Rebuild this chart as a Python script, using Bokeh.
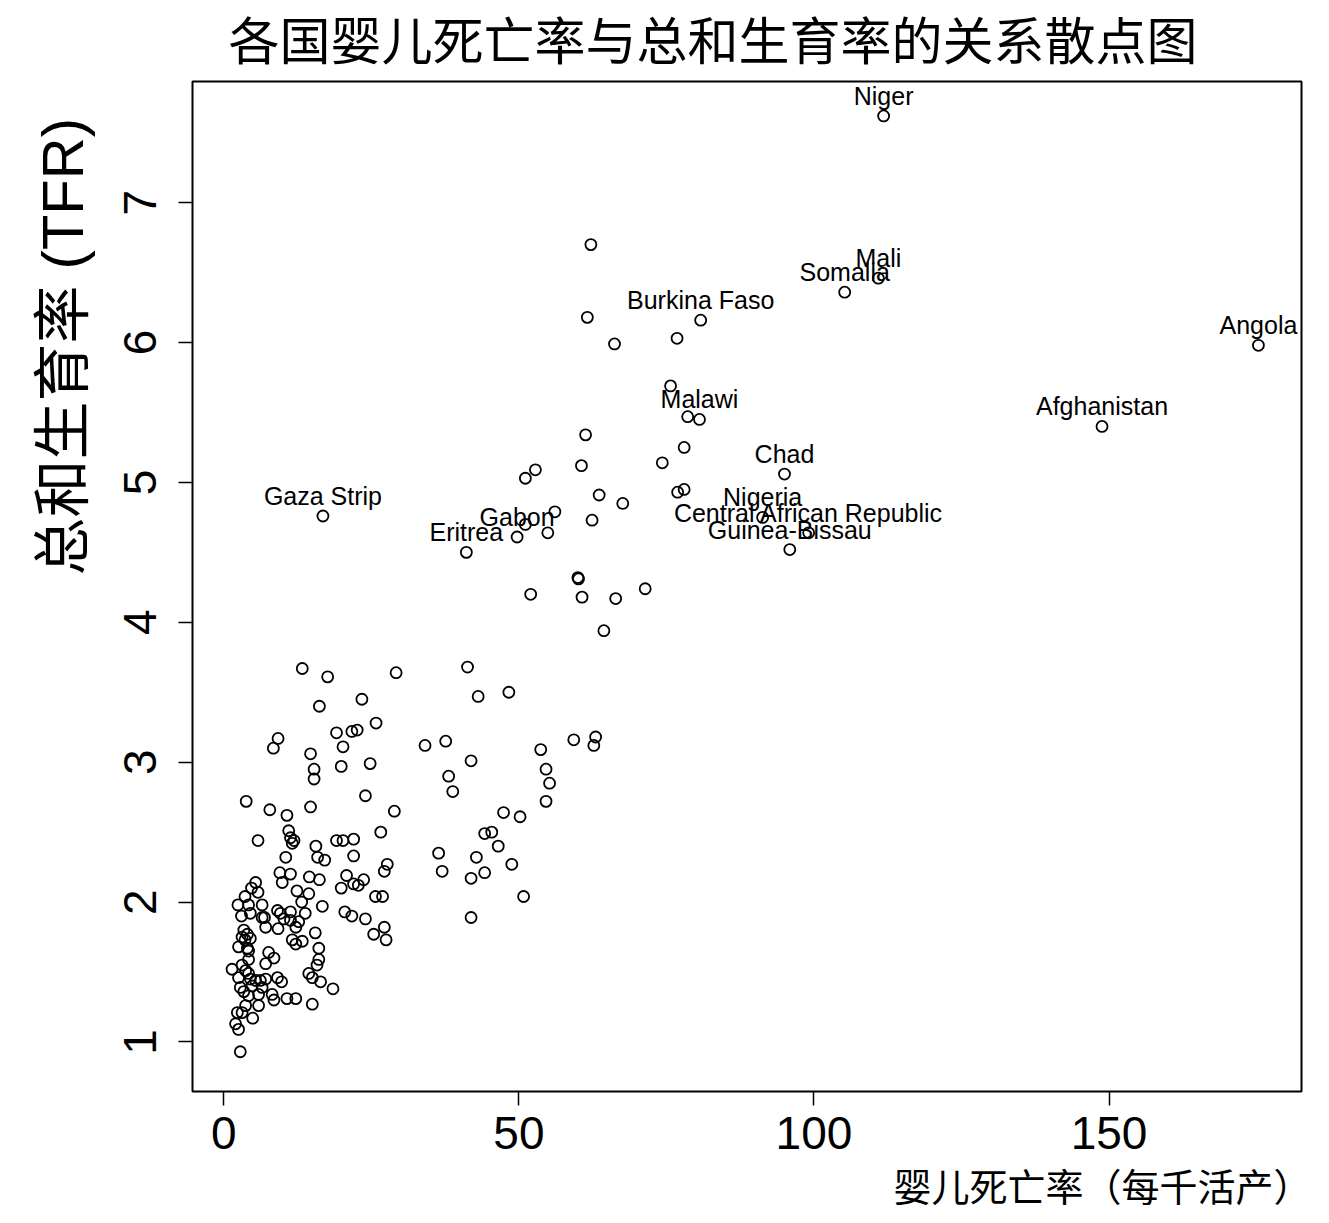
from bokeh.plotting import figure
from bokeh.models import Range1d, FixedTicker, Title, ColumnDataSource
from bokeh.core.properties import value
from bokeh.embed import file_html
from bokeh.resources import INLINE

# ---------------- data ----------------
title_text = "各国婴儿死亡率与总和生育率的关系散点图"
x_label_text = "婴儿死亡率（每千活产）"
y_label_text = "总和生育率 (TFR)"

x_ticks = [0, 50, 100, 150]
y_ticks = [1, 2, 3, 4, 5, 6, 7]

# labelled countries
lab_country = ["Niger", "Mali", "Somalia", "Burkina Faso", "Angola", "Malawi",
               "Afghanistan", "Chad", "Nigeria", "Central African Republic",
               "Guinea-Bissau", "Gaza Strip", "Gabon", "Eritrea"]
lab_imr = [111.8, 110.9, 105.2, 80.8, 175.3, 80.6, 148.8, 95.0, 91.3, 99.1,
           95.9, 16.8, 49.7, 41.1]
lab_tfr = [7.62, 6.46, 6.36, 6.16, 5.98, 5.45, 5.40, 5.06, 4.75, 4.64,
           4.52, 4.76, 4.61, 4.50]

# other countries: infant mortality (per 1000) and total fertility rate
imr = [
    # upper-middle group
    62.2, 61.6, 66.2, 76.8, 75.7, 78.6, 61.3, 52.8, 51.1, 60.6, 74.3, 78.0,
    63.6, 67.6, 76.9, 78.0, 56.1, 51.1, 54.9, 62.4, 60.0, 60.1, 52.0, 60.7,
    66.4, 71.4,
    # middle group
    64.4, 13.3, 17.6, 29.2, 41.3, 43.1, 48.3, 23.4, 16.2, 25.8, 19.1, 21.7,
    22.6, 9.2, 8.4, 14.7, 20.2, 24.8, 15.3, 15.3, 19.9, 34.1, 37.6, 41.9,
    38.1, 38.8, 53.7, 59.3, 63.0, 62.7, 54.6, 55.2, 54.6, 24.0, 3.8, 7.8,
    10.7, 14.7, 28.9, 47.4, 50.2, 11.0, 11.3, 11.9, 11.6, 5.8, 19.1, 20.2,
    22.0, 26.6, 44.2, 45.4, 46.5, 36.4, 42.8, 48.8, 44.2, 37.0, 41.9, 50.8,
    41.9, 10.5, 15.6, 15.9, 17.1, 22.0, 27.7, 27.2, 9.5, 11.3, 14.5, 16.2,
    20.8, 22.0, 22.8, 23.7, 19.9, 25.7, 26.9, 20.5, 21.7, 24.0, 27.2, 25.4,
    27.5, 18.5,
    # low group
    5.4, 4.7, 5.8, 3.6, 9.9, 12.4, 14.4, 13.2, 2.4, 4.2, 6.5, 9.1, 9.6, 11.3,
    13.8, 3.0, 4.5, 6.5, 6.9, 10.2, 11.3, 12.7, 7.1, 9.2, 12.2, 15.5, 3.4,
    4.0, 3.1, 3.6, 4.5, 11.6, 12.2, 13.3, 16.7, 16.1, 2.5, 4.0, 4.2, 7.6,
    8.5, 7.1, 16.1, 15.8, 4.2, 1.4, 3.1, 3.7, 4.2, 2.5, 4.5, 5.4, 6.2, 7.1,
    9.1, 9.8, 14.4, 15.0, 16.4, 2.8, 4.8, 6.5, 3.4, 4.2, 5.9, 8.2, 8.5, 10.7,
    12.2, 15.0, 5.9, 3.7, 3.1, 4.9, 2.3, 2.0, 2.5, 2.8,
]
tfr = [
    6.70, 6.18, 5.99, 6.03, 5.69, 5.47, 5.34, 5.09, 5.03, 5.12, 5.14, 5.25,
    4.91, 4.85, 4.93, 4.95, 4.79, 4.70, 4.64, 4.73, 4.32, 4.31, 4.20, 4.18,
    4.17, 4.24,
    3.94, 3.67, 3.61, 3.64, 3.68, 3.47, 3.50, 3.45, 3.40, 3.28, 3.21, 3.22,
    3.23, 3.17, 3.10, 3.06, 3.11, 2.99, 2.95, 2.88, 2.97, 3.12, 3.15, 3.01,
    2.90, 2.79, 3.09, 3.16, 3.18, 3.12, 2.95, 2.85, 2.72, 2.76, 2.72, 2.66,
    2.62, 2.68, 2.65, 2.64, 2.61, 2.51, 2.46, 2.44, 2.42, 2.44, 2.44, 2.44,
    2.45, 2.50, 2.49, 2.50, 2.40, 2.35, 2.32, 2.27, 2.21, 2.22, 2.17, 2.04,
    1.89, 2.32, 2.40, 2.32, 2.30, 2.33, 2.27, 2.22, 2.21, 2.20, 2.18, 2.16,
    2.19, 2.13, 2.12, 2.16, 2.10, 2.04, 2.04, 1.93, 1.90, 1.88, 1.82, 1.77,
    1.73, 1.38,
    2.14, 2.10, 2.07, 2.04, 2.14, 2.08, 2.06, 2.00, 1.98, 1.98, 1.98, 1.94,
    1.92, 1.93, 1.92, 1.90, 1.92, 1.89, 1.89, 1.88, 1.87, 1.86, 1.82, 1.81,
    1.82, 1.78, 1.80, 1.77, 1.75, 1.73, 1.74, 1.73, 1.70, 1.72, 1.97, 1.67,
    1.68, 1.67, 1.65, 1.64, 1.60, 1.56, 1.59, 1.55, 1.59, 1.52, 1.55, 1.51,
    1.49, 1.46, 1.45, 1.44, 1.44, 1.45, 1.46, 1.43, 1.49, 1.46, 1.43, 1.39,
    1.40, 1.39, 1.36, 1.33, 1.34, 1.34, 1.30, 1.31, 1.31, 1.27, 1.26, 1.26,
    1.21, 1.17, 1.21, 1.13, 1.09, 0.93,
]

# ---------------- figure ----------------
W, H = 1313, 1221
p = figure(width=W, height=H, output_backend="svg", toolbar_location=None,
           x_range=Range1d(-5.3, 182.6), y_range=Range1d(0.646, 7.866),
           min_border_left=192, min_border_right=W - 1301, min_border_top=81,
           min_border_bottom=H - 1091, title=None)
p.background_fill_color = "white"
p.border_fill_color = "white"
p.grid.visible = False
p.outline_line_color = "black"
p.outline_line_width = 2

tick_font = "Liberation Sans"
for ax in (p.xaxis[0], p.yaxis[0]):
    ax.axis_line_color = None
    ax.major_tick_in = 0
    ax.major_tick_out = 14
    ax.major_tick_line_width = 1.5
    ax.major_tick_line_color = "black"
    ax.minor_tick_line_color = None
    ax.major_label_text_font = tick_font
    ax.major_label_text_font_size = "46px"
    ax.major_label_text_color = "black"
p.xaxis.ticker = FixedTicker(ticks=x_ticks)
p.yaxis.ticker = FixedTicker(ticks=y_ticks)
p.xaxis.major_label_standoff = 11
p.yaxis.major_label_standoff = 22
p.yaxis.major_label_orientation = "vertical"

all_x = imr + lab_imr
all_y = tfr + lab_tfr
p.scatter(all_x, all_y, marker="circle", size=11, fill_color=None,
          line_color="black", line_width=1.8)

src = ColumnDataSource(dict(x=lab_imr, y=lab_tfr, t=lab_country))
p.text(x="x", y="y", text="t", source=src, text_align="center",
       text_baseline="middle", y_offset=-20,
       text_font=value("Liberation Sans"), text_font_size="25px",
       text_color="black")

# Latin metrics first (compact text box), CJK glyphs from Noto Sans CJK SC
cjk = "'Liberation Sans', 'Noto Sans CJK SC'"
p.add_layout(Title(text=title_text, align="left", offset=36, standoff=22,
                   text_font=cjk, text_font_size="51px",
                   text_font_style="normal", text_color="black"), "above")
p.add_layout(Title(text=x_label_text, align="left", offset=701, standoff=26,
                   text_font=cjk, text_font_size="38px",
                   text_font_style="normal", text_color="black"), "below")
p.add_layout(Title(text=y_label_text, align="left", offset=516, standoff=53,
                   text_font=cjk, text_font_size="58px",
                   text_font_style="normal", text_color="black"), "left")

open("out.html", "w").write(file_html(p, INLINE))
